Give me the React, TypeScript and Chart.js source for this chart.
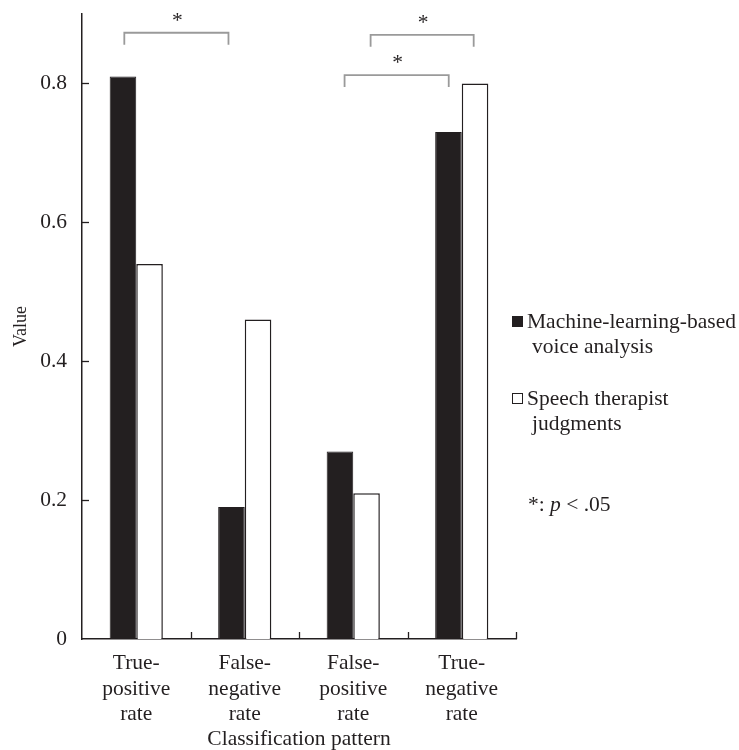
import React, { useEffect, useRef } from 'react';
import { Chart, registerables } from 'chart.js';

Chart.register(...registerables);

const INK = '#231f20';
const FONT = 'Liberation Serif';

const categories = [
  ['True-', 'positive', 'rate'],
  ['False-', 'negative', 'rate'],
  ['False-', 'positive', 'rate'],
  ['True-', 'negative', 'rate'],
];
const mlValues = [0.81, 0.19, 0.27, 0.73];
const stValues = [0.54, 0.46, 0.21, 0.8];
const yTickValues = [0, 0.2, 0.4, 0.6, 0.8];
const yMax = 0.9;
const seriesNames = [
  ['Machine-learning-based', 'voice analysis'],
  ['Speech therapist', 'judgments'],
];
const xTitle = 'Classification pattern';
const yTitle = 'Value';

// significance brackets: category positions (fractional) and data level
const bracketFrom = [-0.11, 2.16, 1.92];
const bracketTo = [0.85, 3.11, 2.88];
const bracketLevel = [0.873, 0.87, 0.812];

const overlay = {
  id: 'overlay',
  afterDraw(chart: any) {
    const { ctx, chartArea } = chart;
    const x = chart.scales.x;
    const y = chart.scales.y;
    ctx.save();
    // inward tick marks
    ctx.strokeStyle = INK;
    ctx.lineWidth = 1.3;
    yTickValues.forEach((v) => {
      if (v === 0) return;
      const py = Math.round(y.getPixelForValue(v)) + 0.5;
      ctx.beginPath();
      ctx.moveTo(chartArea.left, py);
      ctx.lineTo(chartArea.left + 7, py);
      ctx.stroke();
    });
    for (let i = 1; i <= categories.length; i++) {
      const px = Math.round(x.getPixelForValue(i - 0.5)) + 0.5;
      ctx.beginPath();
      ctx.moveTo(px, chartArea.bottom);
      ctx.lineTo(px, chartArea.bottom - 7);
      ctx.stroke();
    }
    // brackets
    ctx.strokeStyle = '#9a9a9a';
    ctx.lineWidth = 1.8;
    ctx.fillStyle = INK;
    ctx.font = `21.5px "${FONT}"`;
    ctx.textAlign = 'center';
    ctx.textBaseline = 'alphabetic';
    bracketFrom.forEach((f, i) => {
      const x1 = x.getPixelForValue(f);
      const x2 = x.getPixelForValue(bracketTo[i]);
      const py = y.getPixelForValue(bracketLevel[i]);
      ctx.beginPath();
      ctx.moveTo(x1, py + 12);
      ctx.lineTo(x1, py);
      ctx.lineTo(x2, py);
      ctx.lineTo(x2, py + 12);
      ctx.stroke();
      ctx.fillText('*', (x1 + x2) / 2 + 1, py - 16 + 10);
    });
    // legend
    const lx = chartArea.right - 4;
    ctx.textAlign = 'left';
    ctx.textBaseline = 'middle';
    const rows = [322, 399];
    rows.forEach((ry, i) => {
      ctx.lineWidth = 1;
      if (i === 0) {
        ctx.fillStyle = INK;
        ctx.fillRect(lx, ry - 6, 11, 11);
      } else {
        ctx.strokeStyle = INK;
        ctx.strokeRect(lx + 0.5, ry - 5.5, 10, 10);
      }
      ctx.fillStyle = INK;
      ctx.fillText(seriesNames[i][0], lx + 15, ry);
      ctx.fillText(seriesNames[i][1], lx + 20, ry + 25);
    });
    // significance note
    let nx = lx + 16;
    const ny = 505;
    ctx.font = `21.5px "${FONT}"`;
    ctx.fillText('*: ', nx, ny);
    nx += ctx.measureText('*: ').width;
    ctx.font = `italic 21.5px "${FONT}"`;
    ctx.fillText('p', nx, ny);
    nx += ctx.measureText('p').width;
    ctx.font = `21.5px "${FONT}"`;
    ctx.fillText(' < .05', nx, ny);
    ctx.restore();
  },
};

export default function App() {
  const ref = useRef<HTMLCanvasElement>(null);
  useEffect(() => {
    Chart.defaults.font.family = FONT;
    Chart.defaults.font.size = 21.5;
    Chart.defaults.color = INK;
    const chart = new Chart(ref.current as HTMLCanvasElement, {
      type: 'bar',
      data: {
        labels: categories,
        datasets: [
          {
            label: seriesNames[0].join(' '),
            data: mlValues,
            backgroundColor: INK,
            borderColor: INK,
            borderWidth: 1,
          },
          {
            label: seriesNames[1].join(' '),
            data: stValues,
            backgroundColor: '#ffffff',
            borderColor: INK,
            borderWidth: 1.5,
          },
        ],
      },
      options: {
        animation: false,
        responsive: true,
        maintainAspectRatio: false,
        datasets: { bar: { categoryPercentage: 0.49, barPercentage: 1 } },
        layout: { padding: { left: 0, right: 223, top: 14, bottom: 0 } },
        plugins: { legend: { display: false }, tooltip: { enabled: false } },
        scales: {
          x: {
            grid: { display: false, drawTicks: false },
            border: { display: true, color: INK, width: 1.5 },
            ticks: { padding: 12, font: { size: 21.5, lineHeight: 1.186 }, maxRotation: 0, autoSkip: false },
            title: { display: true, text: xTitle, font: { size: 21.5, lineHeight: 1.0 }, padding: { top: 0, bottom: 0 } },
            afterFit: (s: any) => { s.height = 111; s.paddingLeft = 0; s.paddingRight = 0; },
          },
          y: {
            min: 0,
            max: yMax,
            grid: { display: false, drawTicks: false },
            border: { display: true, color: INK, width: 1.5 },
            ticks: {
              padding: 15,
              stepSize: 0.2,
              font: { size: 21.5 },
              callback: (v: any) => (v === 0 ? '0' : Number(v).toFixed(1)),
            },
            afterBuildTicks: (s: any) => {
              s.ticks = yTickValues.map((v) => ({ value: v }));
            },
            title: { display: true, text: yTitle, font: { size: 18 }, padding: { top: 10, bottom: 0 } },
            afterFit: (s: any) => { s.width = 82; s.paddingTop = 0; s.paddingBottom = 0; },
          },
        },
      },
      plugins: [overlay],
    });
    return () => chart.destroy();
  }, []);
  return (
    <div style={{ position: 'absolute', left: 0, top: 0, width: 739, height: 750 }}>
      <canvas ref={ref} />
    </div>
  );
}
